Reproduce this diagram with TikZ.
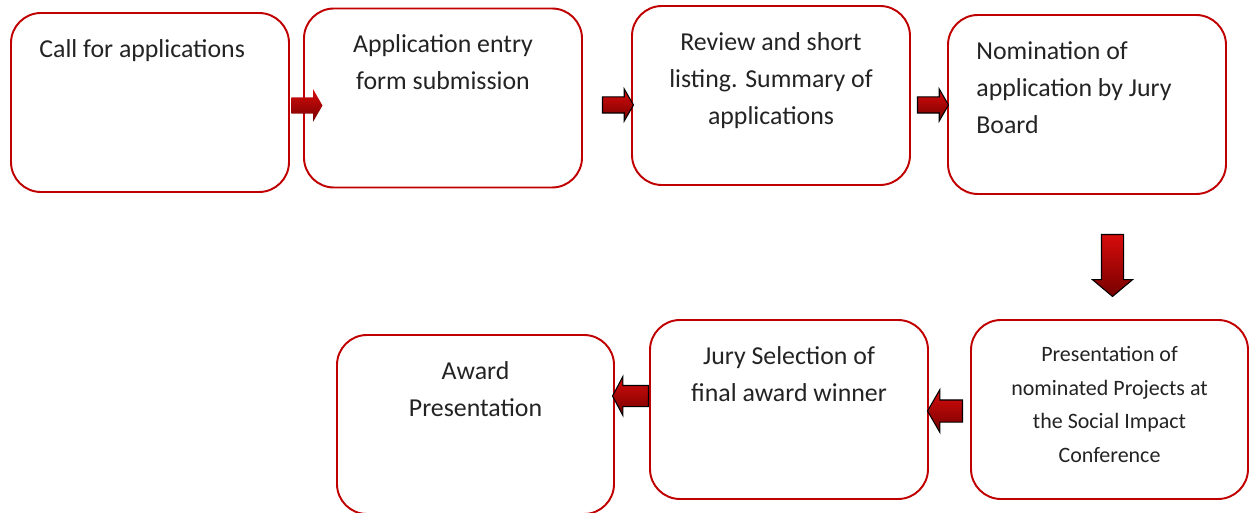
\documentclass[tikz,border=0pt]{standalone}
\usepackage{fontspec}
\setmainfont{Carlito}
\usetikzlibrary{shapes.arrows,positioning}
\definecolor{boxred}{RGB}{192, 0, 0}
\definecolor{arrowtop}{RGB}{215, 12, 12}
\definecolor{arrowbot}{RGB}{118, 0, 0}
\definecolor{textgray}{RGB}{35, 35, 35}

\begin{document}
\begin{tikzpicture}[
    stagebox/.style={draw=boxred, line width=1.1pt, rounded corners=0.6cm, minimum width=5.56cm, minimum height=3.58cm, inner sep=0pt},
    stagetext/.style={inner sep=0pt, align=center, text=textgray, font=\fontsize{14.7}{21}\selectfont},
    flowarrow/.style={single arrow, top color=arrowtop, bottom color=arrowbot, draw=black, line width=0.6pt,
        text width=0pt, text height=0pt, text depth=0pt, anchor=tail},
    sidearrow/.style={flowarrow, inner sep=0.15cm, minimum height=0.62cm, minimum width=0.62cm,
        single arrow head extend=0.16cm, single arrow tip angle=120}
]
\useasboundingbox (0,0) rectangle (24.98,-10.26);

% Top row
\node[stagebox] (call) at (3.0,-2.05) {};
\node[stagebox] (entry) at (8.86,-1.96) {};
\node[stagebox] (review) at (15.42,-1.91) {};
\node[stagebox] (nominate) at (21.74,-2.09) {};

% Bottom row
\node[stagebox, minimum width=5.54cm] (present) at (22.19,-8.19) {};
\node[stagebox] (jury) at (15.78,-8.19) {};
\node[stagebox, minimum width=5.54cm] (award) at (9.51,-8.49) {};

% Texts
\node[stagetext, align=left, below right=0.54cm and 0.58cm of call.north west] (calltxt) {Call for applications};
\node[stagetext, below=0.54cm of entry.north] (entrytxt) {Application entry\\form submission};
\node[stagetext, below=0.54cm of review.north] (reviewtxt) {Review and short\\listing. Summary of\\applications};
\node[stagetext, align=left, below right=0.54cm and 0.58cm of nominate.north west] (nominatetxt) {Nomination of\\application by Jury\\Board};
\node[stagetext, font=\fontsize{12.5}{19.1}\selectfont, below=0.54cm of present.north] (presenttxt) {Presentation of\\nominated Projects at\\the Social Impact\\Conference};
\node[stagetext, below=0.54cm of jury.north] (jurytxt) {Jury Selection of\\final award winner};
\node[stagetext, below=0.54cm of award.north] (awardtxt) {Award\\Presentation};

% Arrows
\node[sidearrow, draw=none] (arr1) at ([xshift=0.02cm, yshift=-0.06cm]call.east) {};
\node[sidearrow] (arr2) at ([xshift=0.38cm, yshift=-0.14cm]entry.east) {};
\node[sidearrow] (arr3) at ([xshift=0.12cm, yshift=-0.19cm]review.east) {};
\node[flowarrow, shape border rotate=270, inner sep=0.21cm, minimum height=1.24cm, minimum width=0.78cm,
    single arrow head extend=0.18cm, single arrow tip angle=100] (arr4) at ([xshift=0.51cm, yshift=-0.78cm]nominate.south) {};
\node[flowarrow, shape border rotate=180, inner sep=0.21cm, minimum height=0.7cm, minimum width=0.84cm,
    single arrow head extend=0.21cm, single arrow tip angle=120] (arr5) at ([xshift=-0.14cm, yshift=-0.03cm]present.west) {};
\node[flowarrow, shape border rotate=180, inner sep=0.2cm, minimum height=0.72cm, minimum width=0.76cm,
    single arrow head extend=0.18cm, single arrow tip angle=124] (arr6) at ([yshift=0.27cm]jury.west) {};
\end{tikzpicture}
\end{document}
